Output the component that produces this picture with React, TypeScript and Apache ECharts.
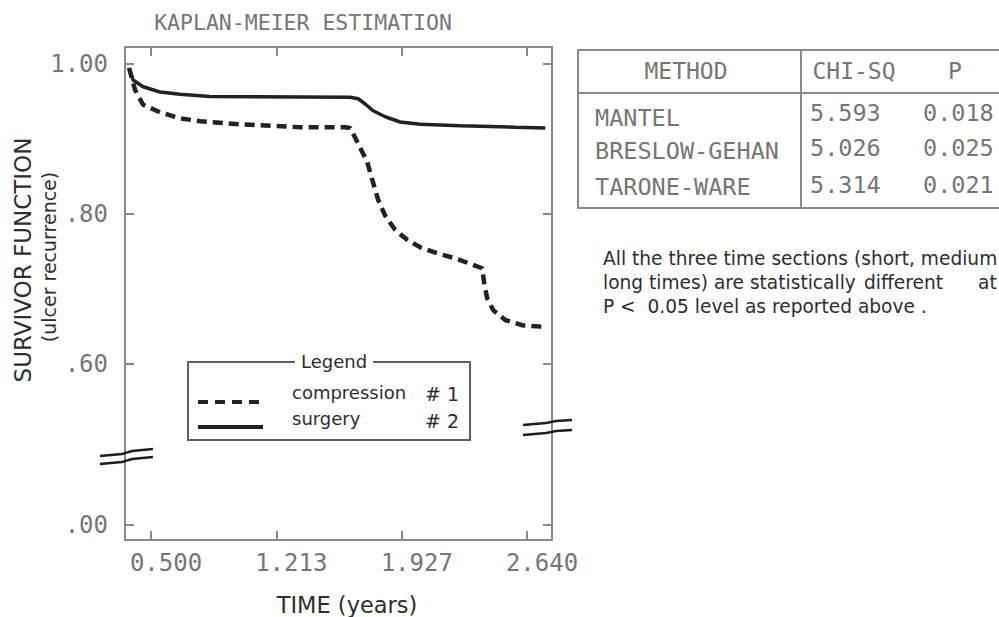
import React, { useEffect, useRef } from "react";
import * as echarts from "echarts";

// ---------- data ----------
const chartTitle = "KAPLAN-MEIER ESTIMATION";
const xTickValues = [0.5, 1.213, 1.927, 2.64];
const yTickValues = [0.3847, 0.6, 0.8, 1.0];
const yTickLabels = [".00", ".60", ".80", "1.00"];

const surgeryTime = [0.375, 0.398, 0.455, 0.551, 0.665, 0.836, 1.633, 1.679, 1.719, 1.764, 1.833, 1.918, 2.032, 2.26, 2.573, 2.744];
const surgerySurv = [0.994, 0.978, 0.969, 0.962, 0.959, 0.956, 0.955, 0.953, 0.946, 0.937, 0.929, 0.922, 0.919, 0.917, 0.915, 0.914];

const compressionTime = [0.375, 0.409, 0.455, 0.551, 0.665, 0.779, 1.007, 1.349, 1.605, 1.633, 1.662, 1.696, 1.73, 1.759, 1.793, 1.833, 1.89, 1.958, 2.032, 2.129, 2.22, 2.305, 2.385, 2.396, 2.413, 2.448, 2.516, 2.613, 2.732];
const compressionSurv = [0.994, 0.965, 0.945, 0.935, 0.927, 0.923, 0.919, 0.915, 0.915, 0.914, 0.901, 0.885, 0.869, 0.845, 0.818, 0.797, 0.778, 0.765, 0.755, 0.747, 0.741, 0.734, 0.727, 0.707, 0.687, 0.671, 0.658, 0.651, 0.649];

const tableHeaders = ["METHOD", "CHI-SQ", "P"];
const methods = ["MANTEL", "BRESLOW-GEHAN", "TARONE-WARE"];
const chiSq = ["5.593", "5.026", "5.314"];
const pValues = ["0.018", "0.025", "0.021"];

const legendItems = ["compression", "surgery"];
const legendNumbers = ["# 1", "# 2"];

const noteLines = [
  "All the three time sections (short, medium",
  "long times) are statistically",
  "different",
  "at",
  "P <  0.05 level as reported above .",
];

const MONO = "'DejaVu Sans Mono', 'Liberation Mono', monospace";
const SANS = "'DejaVu Sans', Verdana, sans-serif";
const GRAY = "#767676";
const DARK = "#2e2e2e";
const AXIS = "#8a8a8a";

export default function App() {
  const ref = useRef<HTMLDivElement>(null);

  useEffect(() => {
    if (!ref.current) return;
    const chart = echarts.init(ref.current, undefined, { renderer: "svg" });

    const surgeryData = surgeryTime.map((t, i) => [t, surgerySurv[i]]);
    const compressionData = compressionTime.map((t, i) => [t, compressionSurv[i]]);

    const yFmt = (v: number) => {
      let best = 0;
      yTickValues.forEach((tv, i) => {
        if (Math.abs(tv - v) < Math.abs(yTickValues[best] - v)) best = i;
      });
      return yTickLabels[best];
    };

    const axisLine = { show: true, lineStyle: { color: AXIS, width: 2 } };
    const tick = { show: true, inside: true, length: 9, lineStyle: { color: AXIS, width: 2 } };

    const graphic: any[] = [];

    // Y-axis titles
    graphic.push({
      type: "text", x: 23, y: 260, rotation: Math.PI / 2,
      style: { text: "SURVIVOR FUNCTION", font: `23px ${SANS}`, fill: DARK, align: "center", verticalAlign: "middle" },
    });
    graphic.push({
      type: "text", x: 49, y: 257, rotation: Math.PI / 2,
      style: { text: "(ulcer recurrence)", font: `19px ${SANS}`, fill: DARK, align: "center", verticalAlign: "middle" },
    });
    // X-axis title
    graphic.push({
      type: "text", x: 347, y: 605,
      style: { text: "TIME (years)", font: `22.5px ${SANS}`, fill: DARK, align: "center", verticalAlign: "middle" },
    });

    // Axis break marks
    const brk = (pts: number[][]) => ({
      type: "polyline", shape: { points: pts }, style: { stroke: "#1e1e1e", lineWidth: 2.4, fill: "none" }, z: 10,
    });
    graphic.push(brk([[100, 456], [122, 454], [132, 451], [153, 449]]));
    graphic.push(brk([[100, 464], [122, 462], [132, 459], [153, 457]]));
    graphic.push(brk([[523, 425], [546, 423], [556, 421], [572, 420]]));
    graphic.push(brk([[523, 435], [546, 433], [556, 431], [572, 430]]));

    // Legend box
    graphic.push({
      type: "rect", shape: { x: 188, y: 362, width: 282, height: 78 },
      style: { fill: "#fff", stroke: "#606060", lineWidth: 2 }, z: 20,
    });
    graphic.push({
      type: "text", x: 334, y: 361, z: 21,
      style: { text: "Legend", font: `18px ${SANS}`, fill: DARK, align: "center", verticalAlign: "middle", backgroundColor: "#fff", padding: [0, 6] },
    });
    graphic.push({
      type: "line", shape: { x1: 198, y1: 402, x2: 263, y2: 402 }, z: 21,
      style: { stroke: "#222", lineWidth: 4, lineDash: [10, 7] },
    });
    graphic.push({
      type: "line", shape: { x1: 198, y1: 427, x2: 263, y2: 427 }, z: 21,
      style: { stroke: "#222", lineWidth: 4 },
    });
    legendItems.forEach((name, i) => {
      graphic.push({
        type: "text", x: 292, y: 392 + i * 26, z: 21,
        style: { text: name, font: `18px ${SANS}`, fill: DARK, align: "left", verticalAlign: "middle" },
      });
      graphic.push({
        type: "text", x: 425, y: 394 + i * 27, z: 21,
        style: { text: legendNumbers[i], font: `19px ${SANS}`, fill: DARK, align: "left", verticalAlign: "middle" },
      });
    });

    // Table
    graphic.push({
      type: "rect", shape: { x: 578, y: 50, width: 440, height: 158 },
      style: { fill: "none", stroke: AXIS, lineWidth: 2 },
    });
    graphic.push({ type: "line", shape: { x1: 578, y1: 93, x2: 1020, y2: 93 }, style: { stroke: AXIS, lineWidth: 2 } });
    graphic.push({ type: "line", shape: { x1: 801, y1: 50, x2: 801, y2: 208 }, style: { stroke: AXIS, lineWidth: 2 } });
    const headerX = [686, 854, 955];
    tableHeaders.forEach((h, i) => {
      graphic.push({
        type: "text", x: headerX[i], y: 71,
        style: { text: h, font: `23px ${MONO}`, fill: GRAY, align: "center", verticalAlign: "middle" },
      });
    });
    const rowY = [118, 151, 187];
    const valY = [113, 148, 185];
    methods.forEach((m, i) => {
      graphic.push({
        type: "text", x: 595, y: rowY[i],
        style: { text: m, font: `23.5px ${MONO}`, fill: GRAY, align: "left", verticalAlign: "middle" },
      });
      graphic.push({
        type: "text", x: 810, y: valY[i],
        style: { text: chiSq[i], font: `23.5px ${MONO}`, fill: GRAY, align: "left", verticalAlign: "middle" },
      });
      graphic.push({
        type: "text", x: 923, y: valY[i],
        style: { text: pValues[i], font: `23.5px ${MONO}`, fill: GRAY, align: "left", verticalAlign: "middle" },
      });
    });

    // Note text
    const notePos = [[603, 258], [603, 282], [864, 282], [978, 282], [603, 306]];
    noteLines.forEach((t, i) => {
      graphic.push({
        type: "text", x: notePos[i][0], y: notePos[i][1],
        style: { text: t, font: `18.6px ${SANS}`, fill: DARK, align: "left", verticalAlign: "middle" },
      });
    });

    const xCommon = {
      type: "value", min: 0.352, max: 2.782,
      axisLine, splitLine: { show: false },
      axisTick: { ...tick, customValues: xTickValues },
    };
    const yCommon = {
      type: "value", min: 0.3647, max: 1.022,
      axisLine, splitLine: { show: false },
      axisTick: { ...tick, customValues: yTickValues },
    };

    chart.setOption({
      animation: false,
      backgroundColor: "#fff",
      title: {
        text: chartTitle, left: 298, top: 6, textAlign: "center",
        textStyle: { fontFamily: MONO, fontSize: 21.5, fontWeight: "normal", color: GRAY },
      },
      grid: { left: 125, right: 447, top: 47, bottom: 77 },
      xAxis: [
        {
          ...xCommon, position: "bottom",
          axisLabel: {
            show: true, customValues: xTickValues, margin: 11, padding: [0, 0, 0, 30],
            formatter: (v: number) => v.toFixed(3),
            fontFamily: MONO, fontSize: 24, color: GRAY,
          },
        },
        { ...xCommon, position: "top", axisLabel: { show: false } },
      ],
      yAxis: [
        {
          ...yCommon, position: "left",
          axisLabel: {
            show: true, customValues: yTickValues, margin: 17,
            formatter: yFmt, fontFamily: MONO, fontSize: 24, color: GRAY,
          },
        },
        { ...yCommon, position: "right", axisLabel: { show: false } },
      ],
      series: [
        {
          name: "compression", type: "line", data: compressionData, symbol: "none",
          lineStyle: { color: "#222", width: 4.5, type: [10, 6] }, z: 3,
        },
        {
          name: "surgery", type: "line", data: surgeryData, symbol: "none",
          lineStyle: { color: "#222", width: 3.5 }, z: 4,
        },
      ],
      graphic,
    });

    return () => chart.dispose();
  }, []);

  return (
    <div
      ref={ref}
      style={{ position: "fixed", left: 0, top: 0, width: 999, height: 617, background: "#fff" }}
    />
  );
}
